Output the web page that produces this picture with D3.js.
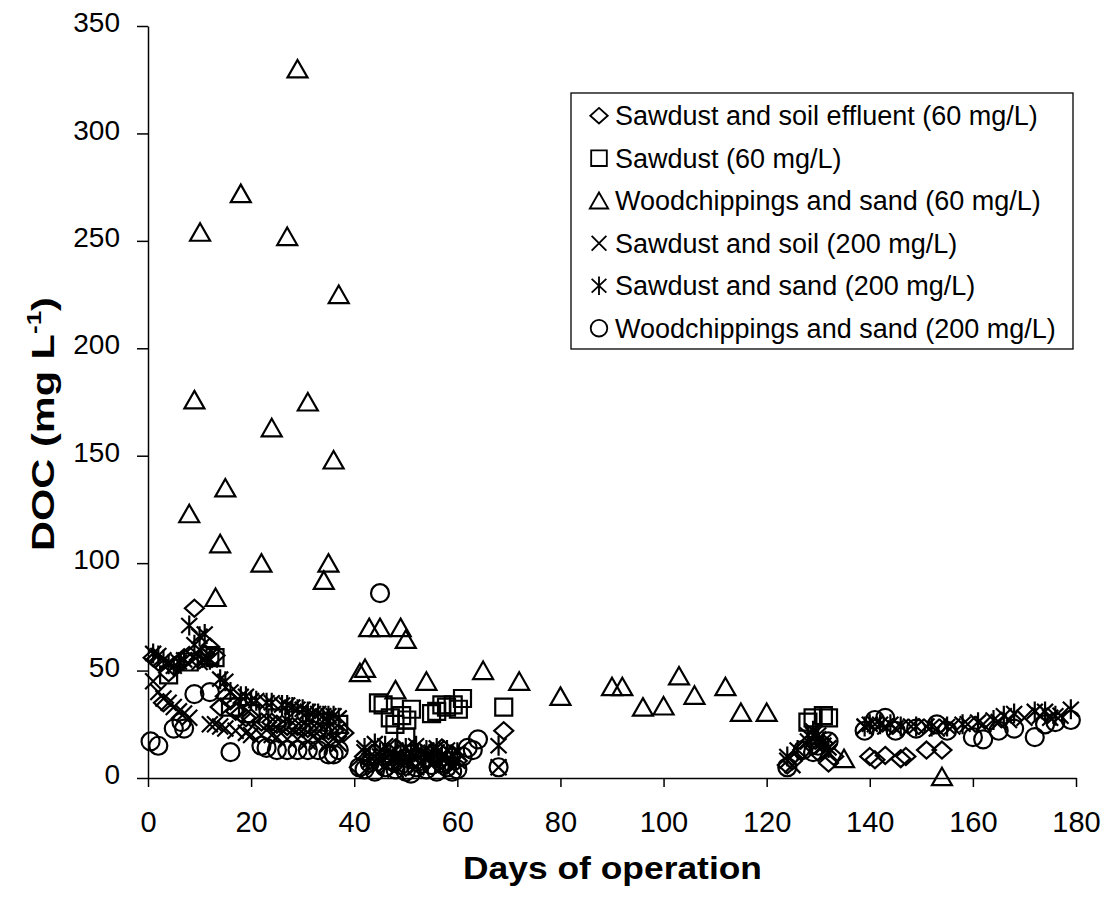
<!DOCTYPE html>
<html><head><meta charset="utf-8">
<script src="https://cdn.jsdelivr.net/npm/d3@7"></script>
<style>
html,body{margin:0;padding:0;background:#fff;}
svg{display:block;font-family:"Liberation Sans",Arial,sans-serif;}
</style></head>
<body>
<svg id="chart" width="1111" height="902"></svg>
<script>
// ---------- DATA ----------
const xTicks = [0,20,40,60,80,100,120,140,160,180];
const yTicks = [0,50,100,150,200,250,300,350];

const seriesNames = [
  "Sawdust and soil effluent (60 mg/L)",
  "Sawdust (60 mg/L)",
  "Woodchippings and sand (60 mg/L)",
  "Sawdust and soil (200 mg/L)",
  "Sawdust and sand (200 mg/L)",
  "Woodchippings and sand (200 mg/L)"
];
const seriesSymbols = ["diamond","square","triangle","cross","asterisk","circle"];

const effluentDays = [1,2,3,4,5,6,7,8,9,10,11,12,13,14,15,16,17,18,19,20,22,23,24,25,26,27,28,29,30,31,32,33,34,35,36,37,38,
  41,42,43,44,45,46,47,48,49,50,51,52,53,54,55,56,57,58,59,60,69,124,125,127,129,130,131,132,133,140,141,143,146,147,151,154];
const effluentDOC = [56,54,35,49,52,53,56,57,79,55,58,61,57,33,38,36,31,30,28,28,26,26,26,25,25,24,24,24,23,23,23,22,22,22,22,21,21,
  5,10,8,12,6,10,8,14,9,5,12,7,10,8,12,9,14,6,11,8,22,6,8,13,15,12,16,7,10,10,8.5,10.5,9,10,13,13];

const sawdustDays = [4,8,12,13,16,20,25,29,33,37,
  44.7,45.6,47,47.9,49.2,50,50.2,51.1,55,56,57,57.9,59.2,60.2,61,69,128,129,131,132];
const sawdustDOC = [48,54,57,56,33,30,28,27,26,25,
  35,34,28,25,29,19,27,32,30,31,34,33,34,32,37,33,26,28,29,28];

const woodSand60Days = [8,9,10.1,13.1,14,15,18,22,24,27,29,31,34.1,35,36,37,41.1,42.1,42.9,45,48,49,50,54,65,72,80,90,92,96,100,103,106,112,115,120,135,154];
const woodSand60DOC = [123,176,254,84,109,135,272,100,163,252,330,175,92,100,148,225,49,51,70,70,41,70,64.5,45,50,45,38,42.5,42.5,33,33.5,47.5,38.5,42.5,30.5,30.5,9,0.6];

const sawdustSoilDays = [1,2,3,4,5,6,7,8,10,11,12,13,14,15,17,19,20,22,24,25,27,29,31,33,35,37,
  42,43,44,45,46,47,48,49,50,51,52,53,54,55,56,57,58,59,60,68,124,125,128,129,130,131,132,
  139,141,143,145,148,151,153,156,159,162,165,167,170,173,175,177];
const sawdustSoilDOC = [45,40,37,35,33,31,30,28,54,55,25,25,24,23,22,21,20,20,20,19,18,18,17,17,16,16,
  12,8,5,10,6,12,4,9,7,11,5,8,10,6,12,9,7,5,8,5,8,6,17,20,18,15,12,
  24,25,24,23,24,24,23,24,25,25,26,27,28,29,28,29];

const sawdustSandDays = [1,2,3,4,5,6,7,8,9,10,11,12,14,15,16,18,19,20,21,23,24,26,27,28,29,30,31,32,33,34,35,36,37,
  42,43,44,45,46,47,48,49,50,51,52,53,54,55,56,57,58,59,60,68,124,126,128,129,130,131,132,
  139,140,142,144,146,149,152,155,158,161,164,166,168,172,174,176,179];
const sawdustSandDOC = [58,57,55,53,52,54,55,71,62,66,67,55,46,45,40,38,38,36,36,35,35,34,34,33,32,32,31,30,30,29,29,29,28,
  14,10,16,12,15,11,13,10,14,12,15,11,13,12,14,10,13,11,12,15,10,13,20,22,20,17,14,
  24,25,25,25,24,24,24,24,25,26,27,29,30,31,31,29,32];

const woodSand200Days = [0.5,2,5,6.5,7,9,12,16,22,23,25,27,29,31,33,35,36,37,
  41,42,43,44,45,46,47,48,49,50,51,52,53,54,55,56,57,58,59,60,61,62,63,64,68,124,127,129,130,132,
  139,141,143,145,149,153,155,160,162,165,168,172,174,176,179];
const woodSand200DOC = [17,15,23,26,23,39,40,12,15,14,13,13,13,13,13,11,11,13,
  5,4,7,3,86,5,8,4,6,3,2,5,8,4,6,3,7,5,3,4,10,14,13,18,5,5,13,12,15,17,
  22,27,28,22,23,25,22,19,18,22,23,19,25,26,27];

const seriesDays = [effluentDays, sawdustDays, woodSand60Days, sawdustSoilDays, sawdustSandDays, woodSand200Days];
const seriesDOC  = [effluentDOC, sawdustDOC, woodSand60DOC, sawdustSoilDOC, sawdustSandDOC, woodSand200DOC];

// ---------- CHART ----------
const svg = d3.select("#chart");
const x = d3.scaleLinear().domain([0,180]).range([148,1076]);
const y = d3.scaleLinear().domain([0,350]).range([778,26]);

function symbolPath(type){
  const p = d3.path();
  switch(type){
    case "diamond": p.moveTo(0,-8.5); p.lineTo(9.5,0); p.lineTo(0,8.5); p.lineTo(-9.5,0); p.closePath(); break;
    case "square": p.rect(-8.5,-8.5,17,17); break;
    case "triangle": p.moveTo(0,-9); p.lineTo(10,8.5); p.lineTo(-10,8.5); p.closePath(); break;
    case "cross": p.moveTo(-8,-8); p.lineTo(8,8); p.moveTo(8,-8); p.lineTo(-8,8); break;
    case "asterisk": p.moveTo(-8,-7.5); p.lineTo(8,7.5); p.moveTo(8,-7.5); p.lineTo(-8,7.5); p.moveTo(0,-10); p.lineTo(0,10); break;
    case "circle": p.arc(0,0,9,0,2*Math.PI); break;
  }
  return p.toString();
}

const series = seriesNames.map((name,i)=>({
  name, symbol: seriesSymbols[i],
  points: seriesDays[i].map((d,j)=>({day:d, doc:seriesDOC[i][j]}))
}));

// Axes
const xAxis = d3.axisBottom(x).tickValues(xTicks).tickSize(9).tickSizeOuter(0).tickPadding(24);
const yAxis = d3.axisLeft(y).tickValues(yTicks).tickSize(11).tickSizeOuter(0).tickPadding(17);

const gx = svg.append("g").attr("transform","translate(0,778)").call(xAxis);
const gy = svg.append("g").attr("transform","translate(148,0)").call(yAxis);
[gx,gy].forEach(g=>{
  g.select(".domain").attr("stroke","#000").attr("stroke-width",1.5);
  g.selectAll(".tick line").attr("stroke","#000").attr("stroke-width",1.5);
  g.selectAll(".tick text").attr("fill","#000")
    .attr("font-family","'Liberation Sans',Arial,sans-serif");
});
gx.selectAll(".tick text").attr("font-size",29);
gy.selectAll(".tick text").attr("font-size",28).attr("dy","0.2em");

// Points
const gPts = svg.append("g");
series.forEach(s=>{
  gPts.append("g").selectAll("path").data(s.points).join("path")
    .attr("d", symbolPath(s.symbol))
    .attr("transform", d=>`translate(${x(d.day)},${y(d.doc)})`)
    .attr("fill","none").attr("stroke","#000").attr("stroke-width",2.2);
});

// Legend
const lg = svg.append("g");
lg.append("rect").attr("x",571).attr("y",93).attr("width",502).attr("height",256)
  .attr("fill","#fff").attr("stroke","#000").attr("stroke-width",1.3);
series.forEach((s,i)=>{
  const cy = 115.7 + i*42.5;
  lg.append("path").attr("d",symbolPath(s.symbol)).attr("transform",`translate(599,${cy}) scale(0.92)`)
    .attr("fill","none").attr("stroke","#000").attr("stroke-width",2);
  lg.append("text").attr("x",615).attr("y",cy+9.3).attr("font-size",27).attr("fill","#000").text(s.name);
});

// Axis titles
function stretchText(t, target){
  const w = t.node().getComputedTextLength();
  return target / w;
}
const xt = svg.append("text").attr("text-anchor","middle").attr("font-weight","bold").attr("font-size",32)
  .attr("fill","#000").text("Days of operation");
const kx = stretchText(xt, 299);
xt.attr("transform",`translate(612.5,879) scale(${kx},1)`);

const yt = svg.append("text").attr("text-anchor","middle").attr("font-weight","bold").attr("font-size",32).attr("fill","#000");
yt.append("tspan").text("DOC (mg L");
yt.append("tspan").attr("font-size",20).attr("dy",-13).text("-1");
yt.append("tspan").attr("dy",13).text(")");
const ky = stretchText(yt, 254);
yt.attr("transform",`translate(54,424) rotate(-90) scale(${ky},1)`);
</script>
</body></html>
